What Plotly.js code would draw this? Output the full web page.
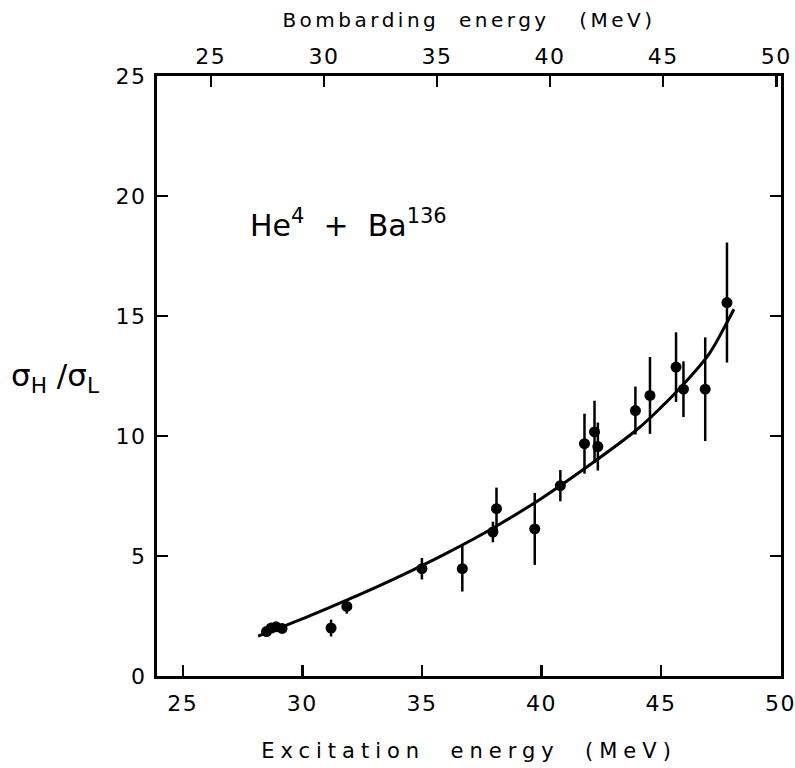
<!DOCTYPE html>
<html>
<head>
<meta charset="utf-8">
<script src="https://cdn.plot.ly/plotly-3.0.1.min.js"></script>
<style>
  html, body { margin: 0; padding: 0; background: #fff; }
  #chart { width: 795px; height: 768px; }
  .xtitle { letter-spacing: 6px; }
  .x2title { letter-spacing: 3.5px; }
  .xtick text, .x2tick text, .ytick text { letter-spacing: 1.5px; }
</style>
</head>
<body>
<div id="chart"></div>
<script>
// Measured data (excitation energy in MeV, ratio sigma_H / sigma_L, error half-length)
var excitation = [28.5, 28.7, 28.9, 29.15, 31.2, 31.86, 35.0, 36.69, 37.97, 38.12, 39.72, 40.79, 41.8, 42.22, 42.36, 43.93, 44.54, 45.63, 45.94, 46.85, 47.76];
var ratio      = [1.85, 2.0, 2.05, 1.98, 2.0, 2.9, 4.47, 4.47, 6.0, 6.97, 6.13, 7.93, 9.68, 10.17, 9.56, 11.06, 11.69, 12.87, 11.95, 11.95, 15.56];
var ratioErr   = [0.15, 0.15, 0.15, 0.15, 0.35, 0.3, 0.45, 0.95, 0.43, 0.88, 1.5, 0.65, 1.25, 1.3, 1.0, 1.0, 1.6, 1.45, 1.16, 2.16, 2.5];

// Smooth fitted curve
var curveX = [28.15, 30, 32, 34, 36, 38, 40, 42, 44, 45, 46, 47, 47.76, 48.05];
var curveY = [1.66, 2.38, 3.22, 4.12, 5.10, 6.18, 7.40, 8.78, 10.27, 11.19, 12.22, 13.40, 14.73, 15.28];

// Axis ticks
var excitationTicks = [25, 30, 35, 40, 45, 50];
var bombardingTicks = [25, 30, 35, 40, 45, 50];
var ratioTicks = [0, 5, 10, 15, 20, 25];

var FONT = 'DejaVu Sans, Liberation Sans, sans-serif';

var traces = [
  {
    x: curveX, y: curveY, type: 'scatter', mode: 'lines',
    line: { color: '#000', width: 3, shape: 'spline', smoothing: 1 },
    hoverinfo: 'skip', showlegend: false
  },
  {
    x: excitation, y: ratio, type: 'scatter', mode: 'markers',
    marker: { color: '#000', size: 11 },
    error_y: { type: 'data', array: ratioErr, visible: true, color: '#000', thickness: 2.5, width: 0 },
    showlegend: false
  },
  {
    x: [], y: [], xaxis: 'x2', yaxis: 'y', type: 'scatter', mode: 'markers',
    showlegend: false, hoverinfo: 'skip'
  }
];

var layout = {
  width: 795, height: 768,
  margin: { l: 157, r: 14, t: 76, b: 92 },
  paper_bgcolor: '#fff', plot_bgcolor: '#fff',
  font: { family: FONT, color: '#000', size: 22 },
  showlegend: false,
  xaxis: {
    range: [23.92, 50.02], tickvals: excitationTicks, ticktext: excitationTicks.map(String),
    ticks: 'inside', ticklen: 11, tickwidth: 2.5, tickcolor: '#000',
    showline: true, linewidth: 3, linecolor: '#000', mirror: false,
    showgrid: false, zeroline: false,
    tickfont: { family: FONT, size: 22, color: '#000' },
    ticklabelstandoff: 6, ticklabeloverflow: 'allow',
    title: { text: 'Excitation\u00a0\u00a0energy\u00a0\u00a0(MeV)', font: { family: FONT, size: 21, color: '#000' }, standoff: 28 }
  },
  xaxis2: {
    overlaying: 'x', side: 'top', anchor: 'y',
    range: [22.62, 50.21], tickvals: bombardingTicks, ticktext: bombardingTicks.map(String),
    ticks: 'inside', ticklen: 11, tickwidth: 2.5, tickcolor: '#000',
    showline: true, linewidth: 3, linecolor: '#000',
    showgrid: false, zeroline: false, ticklabeloverflow: 'allow',
    tickfont: { family: FONT, size: 22, color: '#000' },
    title: { text: 'Bombarding\u00a0\u00a0energy\u00a0\u00a0\u00a0(MeV)', font: { family: FONT, size: 20, color: '#000' }, standoff: 12 }
  },
  yaxis: {
    range: [0, 25], tickvals: ratioTicks, ticktext: ratioTicks.map(String),
    ticks: 'inside', ticklen: 11, tickwidth: 2.5, tickcolor: '#000',
    showline: true, linewidth: 3, linecolor: '#000', mirror: 'ticks',
    showgrid: false, zeroline: false,
    tickfont: { family: FONT, size: 22, color: '#000' },
    ticklabelstandoff: 3
  },
  annotations: [
    {
      xref: 'paper', yref: 'paper', x: 0.146, y: 0.755, xanchor: 'left', yanchor: 'middle',
      text: 'He<sup>4</sup>\u00a0\u00a0+\u00a0\u00a0Ba<sup>136</sup>', showarrow: false,
      font: { family: FONT, size: 30, color: '#000' }
    },
    {
      xref: 'paper', yref: 'paper', x: -0.237, y: 0.497, xanchor: 'left', yanchor: 'middle',
      text: '\u03c3<sub>H</sub>\u00a0/\u03c3<sub>L</sub>', showarrow: false,
      font: { family: FONT, size: 31, color: '#000' }
    }
  ]
};

Plotly.newPlot('chart', traces, layout, { displayModeBar: false, staticPlot: true });
</script>
</body>
</html>
